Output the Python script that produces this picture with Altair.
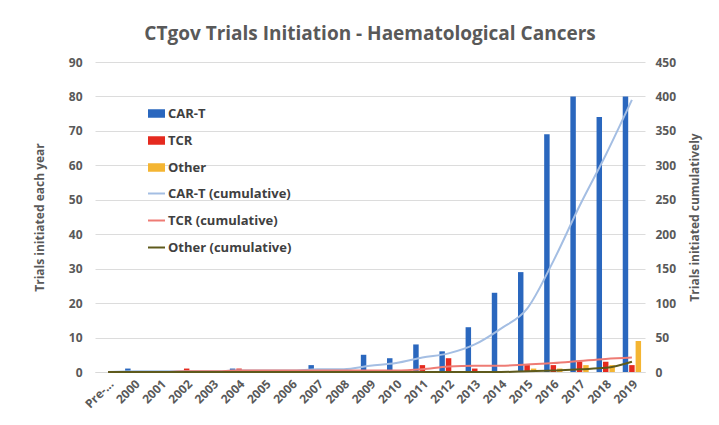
import altair as alt
import pandas as pd

categories = ["Pre-...", "2000", "2001", "2002", "2003", "2004", "2005", "2006", "2007", "2008",
              "2009", "2010", "2011", "2012", "2013", "2014", "2015", "2016", "2017", "2018", "2019"]
car_t = [0, 1, 0, 0, 0, 1, 0, 0, 2, 0, 5, 4, 8, 6, 13, 23, 29, 69, 80, 74, 80]
tcr = [0, 0, 0, 1, 0, 1, 0, 0, 0, 0, 0, 0, 2, 4, 1, 0, 2, 2, 3, 3, 2]
other = [0, 0, 0, 0, 0, 0, 0, 0, 0, 0, 0, 0, 0, 0, 0, 0, 1, 1, 2, 2, 9]
car_t_cum = [0, 1, 1, 1, 1, 2, 2, 2, 4, 4, 9, 13, 21, 27, 40, 63, 92, 161, 241, 315, 395]
tcr_cum = [0, 0, 0, 1, 1, 2, 2, 2, 2, 2, 2, 2, 4, 8, 9, 9, 11, 13, 16, 19, 21]
other_cum = [0, 0, 0, 0, 0, 0, 0, 0, 0, 0, 0, 0, 0, 0, 0, 0, 1, 2, 4, 6, 15]

bar_series = ["CAR-T", "TCR", "Other"]
bar_colors = ["#2A67BE", "#E52A1F", "#F4B532"]
line_series = ["CAR-T (cumulative)", "TCR (cumulative)", "Other (cumulative)"]
line_colors = ["#A4BEE3", "#EE7B74", "#5E5A1C"]

rows = []
for s, vals in zip(bar_series, [car_t, tcr, other]):
    for c, v in zip(categories, vals):
        rows.append({"cat": c, "series": s, "value": v})
bars_df = pd.DataFrame(rows)

rows = []
for s, vals in zip(line_series, [car_t_cum, tcr_cum, other_cum]):
    for c, v in zip(categories, vals):
        rows.append({"cat": c, "lseries": s, "cum": v})
lines_df = pd.DataFrame(rows)

gray = "#595959"
font = "Open Sans"

x_enc = alt.X("cat:N", sort=categories, title=None,
              scale=alt.Scale(paddingInner=0.3, paddingOuter=0.15),
              axis=alt.Axis(labelAngle=-45, labelFont=font, labelFontWeight="bold",
                            labelFontSize=12, labelColor=gray, ticks=False,
                            domainColor="#d9d9d9", labelPadding=6))

bars = alt.Chart(bars_df).mark_bar().encode(
    x=x_enc,
    xOffset=alt.XOffset("series:N", sort=bar_series,
                        scale=alt.Scale(domain=bar_series, paddingInner=0.15)),
    y=alt.Y("value:Q", scale=alt.Scale(domain=[0, 90]),
            axis=alt.Axis(values=list(range(0, 91, 10)), title="Trials initiated each year",
                          orient="left", grid=True, gridColor="#dcdcdc", domain=False,
                          ticks=False, labelFont=font, labelFontWeight="bold",
                          labelFontSize=12, labelColor=gray, labelPadding=13,
                          titleFont=font, titleFontSize=12, titleFontWeight="bold",
                          titleColor=gray, titlePadding=22)),
    color=alt.Color("series:N", scale=alt.Scale(domain=bar_series, range=bar_colors),
                    legend=alt.Legend(orient="none", legendX=52, legendY=42, title=None,
                                      symbolType="M-1,-0.5H1V0.5H-1Z", symbolSize=289,
                                      symbolOpacity=1, labelFont=font, labelFontSize=13,
                                      labelFontWeight="bold", labelColor="#404040",
                                      rowPadding=10, labelOffset=2)),
)

lines = alt.Chart(lines_df).mark_line(interpolate="monotone", strokeWidth=2).encode(
    x=alt.X("cat:N", sort=categories),
    y=alt.Y("cum:Q", scale=alt.Scale(domain=[0, 450]),
            axis=alt.Axis(values=list(range(0, 451, 50)), title="Trials initiated cumulatively",
                          orient="right", grid=False, domain=False, ticks=False,
                          labelFont=font, labelFontWeight="bold", labelFontSize=12,
                          labelColor=gray, labelPadding=10, titleFont=font, titleFontSize=12,
                          titleFontWeight="bold", titleColor=gray, titlePadding=26,
                          titleAngle=270)),
    stroke=alt.Stroke("lseries:N", scale=alt.Scale(domain=line_series, range=line_colors),
                      legend=alt.Legend(orient="none", legendX=52, legendY=122, title=None,
                                        symbolType="stroke", symbolSize=289,
                                        symbolStrokeWidth=2, labelFont=font, labelFontSize=13,
                                        labelFontWeight="bold", labelColor="#404040",
                                        rowPadding=10, labelOffset=2)),
    detail="lseries:N",
)

chart = alt.layer(bars, lines).resolve_scale(y="independent").properties(
    width=550, height=310,
    autosize=alt.AutoSizeParams(type="none"),
    padding={"left": 87, "top": 54, "right": 66, "bottom": 45},
    title=alt.TitleParams("CTgov Trials Initiation - Haematological Cancers",
                          font=font, fontSize=19, fontWeight="bold", color=gray,
                          anchor="middle", offset=12),
    background="white",
).configure_view(stroke=None)

chart.save("out.html", embed_options={"renderer": "svg", "actions": False})
